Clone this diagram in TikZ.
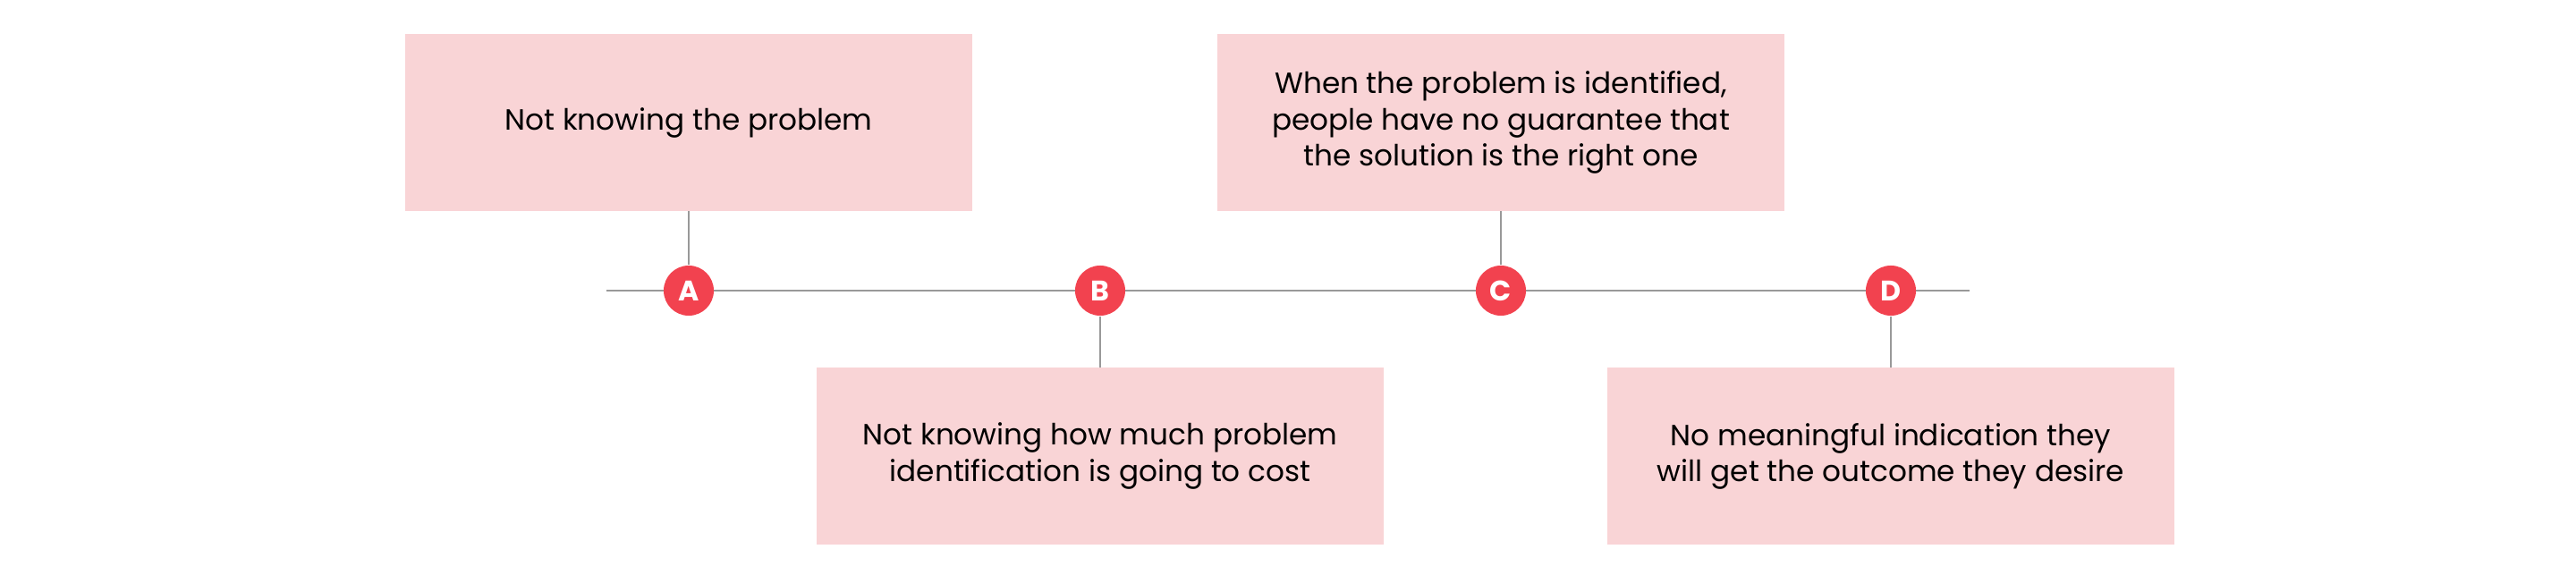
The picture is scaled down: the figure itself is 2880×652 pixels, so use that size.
\documentclass[tikz,border=0pt]{standalone}
\usepackage{fontspec}
\setmainfont{Poppins}
\usepackage{xcolor}
\usetikzlibrary{positioning}
\definecolor{boxpink}{HTML}{F9D4D6}
\definecolor{dotred}{HTML}{F2424F}
\definecolor{linegray}{HTML}{999999}
\begin{document}
\begin{tikzpicture}[x=0.01cm,y=-0.01cm,
  box/.style={fill=boxpink, minimum width=6.34cm, minimum height=1.97cm, inner sep=0pt, align=center, font=\fontsize{9.3}{11.4}\selectfont},
  dot/.style={circle, fill=dotred, minimum size=0.56cm, inner sep=0pt, text=white, font=\bfseries\fontsize{9}{9}\selectfont},
  link/.style={draw=linegray, line width=0.45pt}]
\useasboundingbox (0,0) rectangle (2880,652);
\coordinate (L) at (678,325);
\coordinate (R) at (2202,325);
\draw[line width=0.65pt, linegray] (L) -- (R);
\node[dot] (A) at (770,325) {A};
\node[dot] (B) at (1230,325) {B};
\node[dot] (C) at (1678,325) {C};
\node[dot] (D) at (2114,325) {D};
\node[box, above=0.6cm of A] (bA) {Not knowing the problem};
\node[box, below=0.57cm of B] (bB) {Not knowing how much problem\\identification is going to cost};
\node[box, above=0.6cm of C] (bC) {When the problem is identified,\\people have no guarantee that\\the solution is the right one};
\node[box, below=0.57cm of D] (bD) {No meaningful indication they\\will get the outcome they desire};
\draw[link] (bA) -- (A);
\draw[link] (B) -- (bB);
\draw[link] (bC) -- (C);
\draw[link] (D) -- (bD);
\end{tikzpicture}
\end{document}
